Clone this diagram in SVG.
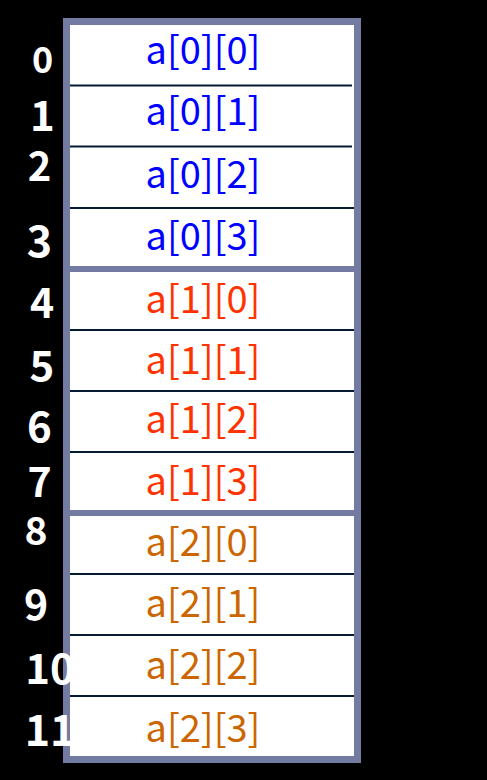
<svg xmlns="http://www.w3.org/2000/svg" width="487" height="780" viewBox="0 0 487 780">
<style>
.cell{font-family:"Noto Sans CJK SC","Liberation Sans",sans-serif;font-size:38px;text-anchor:middle}
.b{fill:#0000FF}.r{fill:#FF3300}.o{fill:#CC6600}
.idx{font-family:"Noto Sans CJK SC","Liberation Sans",sans-serif;font-weight:bold;fill:#FFFFFF;text-anchor:middle}
.thin{stroke:#061A33;stroke-width:2}
.thick{stroke:#737BA3;stroke-width:6}
</style>
<rect width="487" height="780" fill="#000000"/>
<rect x="66.5" y="21.5" width="291" height="738" fill="#FFFFFF"/>
<g id="separators">
<line class="thin" x1="65" y1="85.5" x2="352" y2="85.5"/>
<line class="thin" x1="65" y1="146.5" x2="352" y2="146.5"/>
<line class="thin" x1="65" y1="208" x2="355" y2="208"/>
<line class="thick" x1="70" y1="269" x2="358" y2="269"/>
<line class="thin" x1="65" y1="330" x2="355" y2="330"/>
<line class="thin" x1="65" y1="391" x2="355" y2="391"/>
<line class="thin" x1="65" y1="452" x2="355" y2="452"/>
<line class="thick" x1="70" y1="513" x2="358" y2="513"/>
<line class="thin" x1="65" y1="574" x2="355" y2="574"/>
<line class="thin" x1="65" y1="635" x2="355" y2="635"/>
<line class="thin" x1="65" y1="696" x2="355" y2="696"/>
</g>
<rect id="border" x="66.5" y="21.5" width="291" height="738" fill="none" stroke="#737BA3" stroke-width="7"/>
<g id="cell-0-0"><text class="cell b" x="203" y="64">a[0][0]</text></g>
<g id="cell-0-1"><text class="cell b" x="203" y="125">a[0][1]</text></g>
<g id="cell-0-2"><text class="cell b" x="203" y="188">a[0][2]</text></g>
<g id="cell-0-3"><text class="cell b" x="203" y="250">a[0][3]</text></g>
<g id="cell-1-0"><text class="cell r" x="203" y="313">a[1][0]</text></g>
<g id="cell-1-1"><text class="cell r" x="203" y="374">a[1][1]</text></g>
<g id="cell-1-2"><text class="cell r" x="203" y="433">a[1][2]</text></g>
<g id="cell-1-3"><text class="cell r" x="203" y="495">a[1][3]</text></g>
<g id="cell-2-0"><text class="cell o" x="203" y="556">a[2][0]</text></g>
<g id="cell-2-1"><text class="cell o" x="203" y="617">a[2][1]</text></g>
<g id="cell-2-2"><text class="cell o" x="203" y="679">a[2][2]</text></g>
<g id="cell-2-3"><text class="cell o" x="203" y="742">a[2][3]</text></g>
<g id="indices">
<text class="idx" x="42.5" y="73" font-size="36">0</text>
<text class="idx" x="42.5" y="130.5" font-size="42">1</text>
<text class="idx" x="39.5" y="180.5" font-size="40">2</text>
<text class="idx" x="39.5" y="256.5" font-size="43">3</text>
<text class="idx" x="42" y="318" font-size="41">4</text>
<text class="idx" x="42" y="380.5" font-size="42">5</text>
<text class="idx" x="39.5" y="441.5" font-size="42">6</text>
<text class="idx" x="39.5" y="496.5" font-size="41">7</text>
<text class="idx" x="36" y="545" font-size="39">8</text>
<text class="idx" x="36" y="620" font-size="41">9</text>
<text class="idx" x="50" y="684" font-size="42">10</text>
<text class="idx" x="50" y="746" font-size="43">11</text>
</g>
</svg>
